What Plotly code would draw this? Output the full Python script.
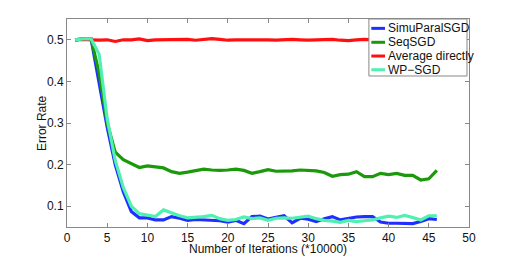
import plotly.graph_objects as go

iterations = list(range(1, 47))

simu_paral_sgd = [0.500, 0.502, 0.502, 0.400, 0.290, 0.200, 0.135, 0.087, 0.072, 0.072,
                  0.067, 0.067, 0.075, 0.071, 0.066, 0.068, 0.067, 0.067, 0.065, 0.062,
                  0.066, 0.058, 0.075, 0.076, 0.069, 0.073, 0.077, 0.060, 0.071, 0.069,
                  0.063, 0.070, 0.075, 0.067, 0.070, 0.074, 0.075, 0.075, 0.062, 0.059,
                  0.059, 0.058, 0.058, 0.063, 0.070, 0.068]

seq_sgd = [0.500, 0.502, 0.502, 0.420, 0.300, 0.230, 0.212, 0.203, 0.193, 0.197,
           0.194, 0.192, 0.183, 0.179, 0.182, 0.185, 0.189, 0.187, 0.186, 0.187,
           0.189, 0.186, 0.179, 0.183, 0.188, 0.184, 0.184, 0.185, 0.187, 0.186,
           0.185, 0.181, 0.172, 0.176, 0.177, 0.183, 0.171, 0.171, 0.179, 0.176,
           0.179, 0.174, 0.174, 0.163, 0.166, 0.186]

average_directly = [0.500, 0.501, 0.500, 0.499, 0.500, 0.496, 0.500, 0.500, 0.502, 0.498,
                    0.500, 0.500, 0.500, 0.500, 0.501, 0.499, 0.501, 0.503, 0.501, 0.499,
                    0.500, 0.500, 0.501, 0.500, 0.500, 0.499, 0.500, 0.501, 0.500, 0.499,
                    0.500, 0.500, 0.501, 0.499, 0.498, 0.500, 0.501, 0.500, 0.499, 0.500,
                    0.500, 0.501, 0.500, 0.499, 0.500, 0.500]

wp_sgd = [0.500, 0.502, 0.502, 0.465, 0.310, 0.210, 0.145, 0.100, 0.082, 0.078,
          0.075, 0.091, 0.083, 0.077, 0.072, 0.073, 0.075, 0.078, 0.070, 0.066,
          0.068, 0.074, 0.070, 0.072, 0.066, 0.071, 0.072, 0.071, 0.073, 0.076,
          0.070, 0.066, 0.064, 0.061, 0.066, 0.063, 0.065, 0.067, 0.072, 0.076,
          0.073, 0.078, 0.073, 0.067, 0.077, 0.077]

series_names = ["SimuParalSGD", "SeqSGD", "Average directly", "WP\u2212SGD"]
series_values = [simu_paral_sgd, seq_sgd, average_directly, wp_sgd]
series_colors = ["#1f2fff", "#1a9a0a", "#ff1010", "#4ff0b0"]

x_ticks = [0, 5, 10, 15, 20, 25, 30, 35, 40, 45, 50]
y_ticks = [0.1, 0.2, 0.3, 0.4, 0.5]
x_title = "Number of Iterations (*10000)"
y_title = "Error Rate"

fig = go.Figure()
for name, vals, color in zip(series_names, series_values, series_colors):
    fig.add_trace(go.Scatter(x=iterations, y=vals, mode="lines", name=name,
                             line=dict(color=color, width=3.2), showlegend=False))

font = "Liberation Sans, Arial, Helvetica, sans-serif"
axis_common = dict(showline=True, linecolor="#888888", linewidth=1, mirror="ticks",
                   ticks="inside", ticklen=4, tickcolor="#888888", showgrid=False,
                   zeroline=False, automargin=False,
                   tickfont=dict(size=12, color="#111111", family=font))

fig.update_xaxes(range=[0, 50], tickvals=x_ticks, ticktext=[str(t) for t in x_ticks],
                 **axis_common)
fig.update_yaxes(range=[0.05, 0.55], tickvals=y_ticks, ticktext=[f"{t:.1f}" for t in y_ticks],
                 **axis_common)

annotations = [
    dict(xref="paper", yref="paper", x=0.5, y=-0.104, text=x_title, showarrow=False,
         xanchor="center", yanchor="middle", font=dict(size=12, color="#111111", family=font)),
    dict(xref="paper", yref="paper", x=-0.062, y=0.5, text=y_title, showarrow=False,
         textangle=-90, xanchor="center", yanchor="middle",
         font=dict(size=12, color="#111111", family=font)),
]

# Legend box (MATLAB style), drawn as layout decoration
shapes = [dict(type="rect", xref="paper", yref="paper", x0=0.751, x1=0.995, y0=0.726, y1=1.0,
               fillcolor="white", line=dict(color="#888888", width=1), layer="above")]
row_y = [0.955, 0.888, 0.822, 0.756]
for name, color, yy in zip(series_names, series_colors, row_y):
    shapes.append(dict(type="line", xref="paper", yref="paper", x0=0.757, x1=0.791,
                       y0=yy, y1=yy, line=dict(color=color, width=3), layer="above"))
    annotations.append(dict(xref="paper", yref="paper", x=0.794, y=yy, text=name,
                            showarrow=False, xanchor="left", yanchor="middle",
                            font=dict(size=12, color="#111111", family=font)))

# page body adds an 8px offset; margins compensate so the plot area lands at 67..469 x 19..227
fig.update_layout(
    width=510, height=248,
    margin=dict(l=59, r=49, t=11, b=29),
    plot_bgcolor="white", paper_bgcolor="white",
    font=dict(family=font, size=12, color="#111111"),
    showlegend=False,
    shapes=shapes,
    annotations=annotations,
)

fig.write_html("out.html")
